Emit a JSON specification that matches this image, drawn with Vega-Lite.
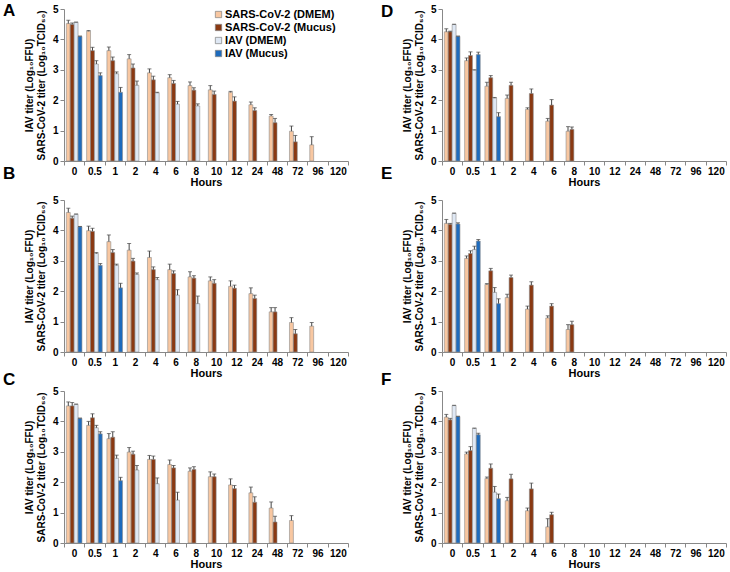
{
  "$schema": "https://vega.github.io/schema/vega-lite/v6.json",
  "padding": {"left": 3, "top": 2, "right": 2, "bottom": 0},
  "bounds": "flush",
  "spacing": {"row": 39, "column": 94},
  "columns": 2,
  "config": {
    "font": "Liberation Sans",
    "view": {"stroke": null},
    "axis": {"labelFontWeight": "bold", "labelColor": "#000", "titleFontWeight": "bold", "titleColor": "#000", "domainColor": "#888", "tickColor": "#888", "tickSize": 4, "grid": false},
    "legend": {"labelFontSize": 11, "labelFontWeight": "bold", "labelColor": "#000", "symbolType": "square", "symbolSize": 40, "symbolStrokeColor": "#808080", "symbolStrokeWidth": 0.7, "rowPadding": 1, "labelOffset": 1, "padding": 0},
    "title": {"fontSize": 17, "fontWeight": "bold", "color": "#000", "anchor": "start", "frame": "group"}
  },
  "data": {"values": [
    {"p":"A","h":"0","s":"SARS-CoV-2 (DMEM)","v":4.52,"hi":4.63},
    {"p":"A","h":"0","s":"SARS-CoV-2 (Mucus)","v":4.49,"hi":4.54},
    {"p":"A","h":"0","s":"IAV (DMEM)","v":4.56,"hi":4.57},
    {"p":"A","h":"0","s":"IAV (Mucus)","v":4.10,"hi":4.11},
    {"p":"A","h":"0.5","s":"SARS-CoV-2 (DMEM)","v":4.27,"hi":4.29},
    {"p":"A","h":"0.5","s":"SARS-CoV-2 (Mucus)","v":3.63,"hi":3.74},
    {"p":"A","h":"0.5","s":"IAV (DMEM)","v":3.19,"hi":3.30},
    {"p":"A","h":"0.5","s":"IAV (Mucus)","v":2.81,"hi":2.90},
    {"p":"A","h":"1","s":"SARS-CoV-2 (DMEM)","v":3.63,"hi":3.75},
    {"p":"A","h":"1","s":"SARS-CoV-2 (Mucus)","v":3.30,"hi":3.42},
    {"p":"A","h":"1","s":"IAV (DMEM)","v":2.87,"hi":2.93},
    {"p":"A","h":"1","s":"IAV (Mucus)","v":2.26,"hi":2.42},
    {"p":"A","h":"2","s":"SARS-CoV-2 (DMEM)","v":3.36,"hi":3.50},
    {"p":"A","h":"2","s":"SARS-CoV-2 (Mucus)","v":3.06,"hi":3.19},
    {"p":"A","h":"2","s":"IAV (DMEM)","v":2.49,"hi":2.63},
    {"p":"A","h":"4","s":"SARS-CoV-2 (DMEM)","v":2.90,"hi":3.03},
    {"p":"A","h":"4","s":"SARS-CoV-2 (Mucus)","v":2.67,"hi":2.79},
    {"p":"A","h":"4","s":"IAV (DMEM)","v":2.24,"hi":2.26},
    {"p":"A","h":"6","s":"SARS-CoV-2 (DMEM)","v":2.74,"hi":2.84},
    {"p":"A","h":"6","s":"SARS-CoV-2 (Mucus)","v":2.55,"hi":2.65},
    {"p":"A","h":"6","s":"IAV (DMEM)","v":1.87,"hi":1.96},
    {"p":"A","h":"8","s":"SARS-CoV-2 (DMEM)","v":2.48,"hi":2.60},
    {"p":"A","h":"8","s":"SARS-CoV-2 (Mucus)","v":2.33,"hi":2.41},
    {"p":"A","h":"8","s":"IAV (DMEM)","v":1.81,"hi":1.88},
    {"p":"A","h":"10","s":"SARS-CoV-2 (DMEM)","v":2.34,"hi":2.48},
    {"p":"A","h":"10","s":"SARS-CoV-2 (Mucus)","v":2.19,"hi":2.30},
    {"p":"A","h":"12","s":"SARS-CoV-2 (DMEM)","v":2.26,"hi":2.29},
    {"p":"A","h":"12","s":"SARS-CoV-2 (Mucus)","v":1.97,"hi":2.11},
    {"p":"A","h":"24","s":"SARS-CoV-2 (DMEM)","v":1.85,"hi":1.94},
    {"p":"A","h":"24","s":"SARS-CoV-2 (Mucus)","v":1.66,"hi":1.75},
    {"p":"A","h":"48","s":"SARS-CoV-2 (DMEM)","v":1.48,"hi":1.53},
    {"p":"A","h":"48","s":"SARS-CoV-2 (Mucus)","v":1.26,"hi":1.40},
    {"p":"A","h":"72","s":"SARS-CoV-2 (DMEM)","v":0.98,"hi":1.15},
    {"p":"A","h":"72","s":"SARS-CoV-2 (Mucus)","v":0.63,"hi":0.84},
    {"p":"A","h":"96","s":"SARS-CoV-2 (DMEM)","v":0.53,"hi":0.80},

    {"p":"D","h":"0","s":"SARS-CoV-2 (DMEM)","v":4.25,"hi":4.35},
    {"p":"D","h":"0","s":"SARS-CoV-2 (Mucus)","v":4.25,"hi":4.27},
    {"p":"D","h":"0","s":"IAV (DMEM)","v":4.49,"hi":4.50},
    {"p":"D","h":"0","s":"IAV (Mucus)","v":4.10,"hi":4.11},
    {"p":"D","h":"0.5","s":"SARS-CoV-2 (DMEM)","v":3.30,"hi":3.39},
    {"p":"D","h":"0.5","s":"SARS-CoV-2 (Mucus)","v":3.47,"hi":3.59},
    {"p":"D","h":"0.5","s":"IAV (DMEM)","v":2.99,"hi":3.00},
    {"p":"D","h":"0.5","s":"IAV (Mucus)","v":3.50,"hi":3.58},
    {"p":"D","h":"1","s":"SARS-CoV-2 (DMEM)","v":2.46,"hi":2.59},
    {"p":"D","h":"1","s":"SARS-CoV-2 (Mucus)","v":2.74,"hi":2.81},
    {"p":"D","h":"1","s":"IAV (DMEM)","v":2.07,"hi":2.09},
    {"p":"D","h":"1","s":"IAV (Mucus)","v":1.46,"hi":1.59},
    {"p":"D","h":"2","s":"SARS-CoV-2 (DMEM)","v":2.06,"hi":2.17},
    {"p":"D","h":"2","s":"SARS-CoV-2 (Mucus)","v":2.49,"hi":2.59},
    {"p":"D","h":"4","s":"SARS-CoV-2 (DMEM)","v":1.70,"hi":1.75},
    {"p":"D","h":"4","s":"SARS-CoV-2 (Mucus)","v":2.22,"hi":2.37},
    {"p":"D","h":"6","s":"SARS-CoV-2 (DMEM)","v":1.31,"hi":1.40},
    {"p":"D","h":"6","s":"SARS-CoV-2 (Mucus)","v":1.84,"hi":2.02},
    {"p":"D","h":"8","s":"SARS-CoV-2 (DMEM)","v":0.98,"hi":1.13},
    {"p":"D","h":"8","s":"SARS-CoV-2 (Mucus)","v":1.04,"hi":1.12},

    {"p":"B","h":"0","s":"SARS-CoV-2 (DMEM)","v":4.59,"hi":4.73},
    {"p":"B","h":"0","s":"SARS-CoV-2 (Mucus)","v":4.40,"hi":4.47},
    {"p":"B","h":"0","s":"IAV (DMEM)","v":4.53,"hi":4.54},
    {"p":"B","h":"0","s":"IAV (Mucus)","v":4.12,"hi":4.13},
    {"p":"B","h":"0.5","s":"SARS-CoV-2 (DMEM)","v":3.99,"hi":4.14},
    {"p":"B","h":"0.5","s":"SARS-CoV-2 (Mucus)","v":3.97,"hi":4.07},
    {"p":"B","h":"0.5","s":"IAV (DMEM)","v":3.24,"hi":3.27},
    {"p":"B","h":"0.5","s":"IAV (Mucus)","v":2.85,"hi":2.91},
    {"p":"B","h":"1","s":"SARS-CoV-2 (DMEM)","v":3.63,"hi":3.85},
    {"p":"B","h":"1","s":"SARS-CoV-2 (Mucus)","v":3.27,"hi":3.37},
    {"p":"B","h":"1","s":"IAV (DMEM)","v":2.85,"hi":2.89},
    {"p":"B","h":"1","s":"IAV (Mucus)","v":2.11,"hi":2.26},
    {"p":"B","h":"2","s":"SARS-CoV-2 (DMEM)","v":3.35,"hi":3.57},
    {"p":"B","h":"2","s":"SARS-CoV-2 (Mucus)","v":2.99,"hi":3.08},
    {"p":"B","h":"2","s":"IAV (DMEM)","v":2.55,"hi":2.60},
    {"p":"B","h":"4","s":"SARS-CoV-2 (DMEM)","v":3.11,"hi":3.32},
    {"p":"B","h":"4","s":"SARS-CoV-2 (Mucus)","v":2.71,"hi":2.80},
    {"p":"B","h":"4","s":"IAV (DMEM)","v":2.38,"hi":2.45},
    {"p":"B","h":"6","s":"SARS-CoV-2 (DMEM)","v":2.71,"hi":2.89},
    {"p":"B","h":"6","s":"SARS-CoV-2 (Mucus)","v":2.58,"hi":2.67},
    {"p":"B","h":"6","s":"IAV (DMEM)","v":1.87,"hi":2.05},
    {"p":"B","h":"8","s":"SARS-CoV-2 (DMEM)","v":2.47,"hi":2.64},
    {"p":"B","h":"8","s":"SARS-CoV-2 (Mucus)","v":2.43,"hi":2.51},
    {"p":"B","h":"8","s":"IAV (DMEM)","v":1.59,"hi":1.84},
    {"p":"B","h":"10","s":"SARS-CoV-2 (DMEM)","v":2.34,"hi":2.47},
    {"p":"B","h":"10","s":"SARS-CoV-2 (Mucus)","v":2.26,"hi":2.38},
    {"p":"B","h":"12","s":"SARS-CoV-2 (DMEM)","v":2.16,"hi":2.34},
    {"p":"B","h":"12","s":"SARS-CoV-2 (Mucus)","v":2.10,"hi":2.20},
    {"p":"B","h":"24","s":"SARS-CoV-2 (DMEM)","v":1.92,"hi":2.11},
    {"p":"B","h":"24","s":"SARS-CoV-2 (Mucus)","v":1.76,"hi":1.87},
    {"p":"B","h":"48","s":"SARS-CoV-2 (DMEM)","v":1.32,"hi":1.46},
    {"p":"B","h":"48","s":"SARS-CoV-2 (Mucus)","v":1.32,"hi":1.46},
    {"p":"B","h":"72","s":"SARS-CoV-2 (DMEM)","v":0.97,"hi":1.13},
    {"p":"B","h":"72","s":"SARS-CoV-2 (Mucus)","v":0.60,"hi":0.74},
    {"p":"B","h":"96","s":"SARS-CoV-2 (DMEM)","v":0.85,"hi":0.97},

    {"p":"E","h":"0","s":"SARS-CoV-2 (DMEM)","v":4.23,"hi":4.36},
    {"p":"E","h":"0","s":"SARS-CoV-2 (Mucus)","v":4.20,"hi":4.23},
    {"p":"E","h":"0","s":"IAV (DMEM)","v":4.56,"hi":4.57},
    {"p":"E","h":"0","s":"IAV (Mucus)","v":4.21,"hi":4.25},
    {"p":"E","h":"0.5","s":"SARS-CoV-2 (DMEM)","v":3.08,"hi":3.16},
    {"p":"E","h":"0.5","s":"SARS-CoV-2 (Mucus)","v":3.24,"hi":3.33},
    {"p":"E","h":"0.5","s":"IAV (DMEM)","v":3.37,"hi":3.48},
    {"p":"E","h":"0.5","s":"IAV (Mucus)","v":3.65,"hi":3.70},
    {"p":"E","h":"1","s":"SARS-CoV-2 (DMEM)","v":2.22,"hi":2.25},
    {"p":"E","h":"1","s":"SARS-CoV-2 (Mucus)","v":2.67,"hi":2.75},
    {"p":"E","h":"1","s":"IAV (DMEM)","v":1.96,"hi":2.12},
    {"p":"E","h":"1","s":"IAV (Mucus)","v":1.59,"hi":1.75},
    {"p":"E","h":"2","s":"SARS-CoV-2 (DMEM)","v":1.79,"hi":1.90},
    {"p":"E","h":"2","s":"SARS-CoV-2 (Mucus)","v":2.45,"hi":2.53},
    {"p":"E","h":"4","s":"SARS-CoV-2 (DMEM)","v":1.41,"hi":1.51},
    {"p":"E","h":"4","s":"SARS-CoV-2 (Mucus)","v":2.20,"hi":2.31},
    {"p":"E","h":"6","s":"SARS-CoV-2 (DMEM)","v":1.12,"hi":1.19},
    {"p":"E","h":"6","s":"SARS-CoV-2 (Mucus)","v":1.51,"hi":1.59},
    {"p":"E","h":"8","s":"SARS-CoV-2 (DMEM)","v":0.74,"hi":0.90},
    {"p":"E","h":"8","s":"SARS-CoV-2 (Mucus)","v":0.90,"hi":1.01},

    {"p":"C","h":"0","s":"SARS-CoV-2 (DMEM)","v":4.51,"hi":4.64},
    {"p":"C","h":"0","s":"SARS-CoV-2 (Mucus)","v":4.51,"hi":4.62},
    {"p":"C","h":"0","s":"IAV (DMEM)","v":4.56,"hi":4.57},
    {"p":"C","h":"0","s":"IAV (Mucus)","v":4.10,"hi":4.11},
    {"p":"C","h":"0.5","s":"SARS-CoV-2 (DMEM)","v":3.87,"hi":4.00},
    {"p":"C","h":"0.5","s":"SARS-CoV-2 (Mucus)","v":4.12,"hi":4.25},
    {"p":"C","h":"0.5","s":"IAV (DMEM)","v":3.79,"hi":3.87},
    {"p":"C","h":"0.5","s":"IAV (Mucus)","v":3.59,"hi":3.66},
    {"p":"C","h":"1","s":"SARS-CoV-2 (DMEM)","v":3.43,"hi":3.60},
    {"p":"C","h":"1","s":"SARS-CoV-2 (Mucus)","v":3.48,"hi":3.66},
    {"p":"C","h":"1","s":"IAV (DMEM)","v":2.78,"hi":2.89},
    {"p":"C","h":"1","s":"IAV (Mucus)","v":2.05,"hi":2.16},
    {"p":"C","h":"2","s":"SARS-CoV-2 (DMEM)","v":2.99,"hi":3.14},
    {"p":"C","h":"2","s":"SARS-CoV-2 (Mucus)","v":2.92,"hi":3.02},
    {"p":"C","h":"2","s":"IAV (DMEM)","v":2.40,"hi":2.55},
    {"p":"C","h":"4","s":"SARS-CoV-2 (DMEM)","v":2.75,"hi":2.88},
    {"p":"C","h":"4","s":"SARS-CoV-2 (Mucus)","v":2.75,"hi":2.86},
    {"p":"C","h":"4","s":"IAV (DMEM)","v":1.95,"hi":2.14},
    {"p":"C","h":"6","s":"SARS-CoV-2 (DMEM)","v":2.58,"hi":2.73},
    {"p":"C","h":"6","s":"SARS-CoV-2 (Mucus)","v":2.47,"hi":2.55},
    {"p":"C","h":"6","s":"IAV (DMEM)","v":1.41,"hi":1.67},
    {"p":"C","h":"8","s":"SARS-CoV-2 (DMEM)","v":2.36,"hi":2.47},
    {"p":"C","h":"8","s":"SARS-CoV-2 (Mucus)","v":2.42,"hi":2.51},
    {"p":"C","h":"10","s":"SARS-CoV-2 (DMEM)","v":2.18,"hi":2.34},
    {"p":"C","h":"10","s":"SARS-CoV-2 (Mucus)","v":2.18,"hi":2.27},
    {"p":"C","h":"12","s":"SARS-CoV-2 (DMEM)","v":1.91,"hi":2.11},
    {"p":"C","h":"12","s":"SARS-CoV-2 (Mucus)","v":1.79,"hi":1.89},
    {"p":"C","h":"24","s":"SARS-CoV-2 (DMEM)","v":1.65,"hi":1.84},
    {"p":"C","h":"24","s":"SARS-CoV-2 (Mucus)","v":1.34,"hi":1.52},
    {"p":"C","h":"48","s":"SARS-CoV-2 (DMEM)","v":1.15,"hi":1.35},
    {"p":"C","h":"48","s":"SARS-CoV-2 (Mucus)","v":0.69,"hi":0.88},
    {"p":"C","h":"72","s":"SARS-CoV-2 (DMEM)","v":0.74,"hi":0.90},

    {"p":"F","h":"0","s":"SARS-CoV-2 (DMEM)","v":4.14,"hi":4.23},
    {"p":"F","h":"0","s":"SARS-CoV-2 (Mucus)","v":4.05,"hi":4.10},
    {"p":"F","h":"0","s":"IAV (DMEM)","v":4.52,"hi":4.53},
    {"p":"F","h":"0","s":"IAV (Mucus)","v":4.16,"hi":4.17},
    {"p":"F","h":"0.5","s":"SARS-CoV-2 (DMEM)","v":2.93,"hi":2.99},
    {"p":"F","h":"0.5","s":"SARS-CoV-2 (Mucus)","v":3.04,"hi":3.17},
    {"p":"F","h":"0.5","s":"IAV (DMEM)","v":3.77,"hi":3.78},
    {"p":"F","h":"0.5","s":"IAV (Mucus)","v":3.56,"hi":3.61},
    {"p":"F","h":"1","s":"SARS-CoV-2 (DMEM)","v":2.12,"hi":2.17},
    {"p":"F","h":"1","s":"SARS-CoV-2 (Mucus)","v":2.46,"hi":2.60},
    {"p":"F","h":"1","s":"IAV (DMEM)","v":1.67,"hi":1.86},
    {"p":"F","h":"1","s":"IAV (Mucus)","v":1.46,"hi":1.61},
    {"p":"F","h":"2","s":"SARS-CoV-2 (DMEM)","v":1.39,"hi":1.50},
    {"p":"F","h":"2","s":"SARS-CoV-2 (Mucus)","v":2.11,"hi":2.26},
    {"p":"F","h":"4","s":"SARS-CoV-2 (DMEM)","v":1.06,"hi":1.15},
    {"p":"F","h":"4","s":"SARS-CoV-2 (Mucus)","v":1.78,"hi":1.97},
    {"p":"F","h":"6","s":"SARS-CoV-2 (DMEM)","v":0.53,"hi":0.80},
    {"p":"F","h":"6","s":"SARS-CoV-2 (Mucus)","v":0.93,"hi":1.01}
  ]},
  "concat": [
    {"title": {"text": "A", "dx": -61, "dy": 20}, "width": 284, "height": 152, "transform": [{"filter": "datum.p === 'A'"}],
     "encoding": {
       "x": {"field": "h", "type": "ordinal", "scale": {"domain": ["0","0.5","1","2","4","6","8","10","12","24","48","72","96","120"], "paddingInner": 0, "paddingOuter": 0}, "axis": {"title": "Hours", "titleFontSize": 11, "titlePadding": 0, "labelFontSize": 10, "labelAngle": 0, "labelPadding": 1, "tickBand": "extent"}},
       "xOffset": {"field": "s", "type": "nominal", "scale": {"domain": ["SARS-CoV-2 (DMEM)","SARS-CoV-2 (Mucus)","IAV (DMEM)","IAV (Mucus)"], "paddingOuter": 0.6}},
       "y": {"field": "v", "type": "quantitative", "scale": {"domain": [0, 5], "nice": false}, "axis": {"values": [0,1,2,3,4,5], "title": ["IAV titer (Log₁₀FFU)", "SARS-CoV-2 titer (Log₁₀TCID₅₀)"], "titleFontSize": 10, "titleLineHeight": 12, "titlePadding": 6, "labelFontSize": 10, "labelPadding": 2}}
     },
     "layer": [
       {"mark": {"type": "bar", "stroke": "#8c8c8c", "strokeWidth": 0.6}, "encoding": {"color": {"field": "s", "type": "nominal", "scale": {"domain": ["SARS-CoV-2 (DMEM)","SARS-CoV-2 (Mucus)","IAV (DMEM)","IAV (Mucus)"], "range": ["#f8c7a1","#8a3912","#dfe8f4","#1e6bbd"]}, "legend": {"title": null, "orient": "none", "legendX": 149, "legendY": 0}}}},
       {"mark": {"type": "rule", "color": "#444", "strokeWidth": 1}, "encoding": {"y2": {"field": "hi"}}},
       {"mark": {"type": "tick", "color": "#444", "size": 4, "thickness": 1}, "encoding": {"y": {"field": "hi", "type": "quantitative"}}}
     ]},
    {"title": {"text": "D", "dx": -61, "dy": 21}, "width": 284, "height": 152, "transform": [{"filter": "datum.p === 'D'"}],
     "encoding": {
       "x": {"field": "h", "type": "ordinal", "scale": {"domain": ["0","0.5","1","2","4","6","8","10","12","24","48","72","96","120"], "paddingInner": 0, "paddingOuter": 0}, "axis": {"title": "Hours", "titleFontSize": 11, "titlePadding": 0, "labelFontSize": 10, "labelAngle": 0, "labelPadding": 1, "tickBand": "extent"}},
       "xOffset": {"field": "s", "type": "nominal", "scale": {"domain": ["SARS-CoV-2 (DMEM)","SARS-CoV-2 (Mucus)","IAV (DMEM)","IAV (Mucus)"], "paddingOuter": 0.6}},
       "y": {"field": "v", "type": "quantitative", "scale": {"domain": [0, 5], "nice": false}, "axis": {"values": [0,1,2,3,4,5], "title": ["IAV titer (Log₁₀FFU)", "SARS-CoV-2 titer (Log₁₀TCID₅₀)"], "titleFontSize": 10, "titleLineHeight": 12, "titlePadding": 6, "labelFontSize": 10, "labelPadding": 2}}
     },
     "layer": [
       {"mark": {"type": "bar", "stroke": "#8c8c8c", "strokeWidth": 0.6}, "encoding": {"color": {"field": "s", "type": "nominal", "scale": {"domain": ["SARS-CoV-2 (DMEM)","SARS-CoV-2 (Mucus)","IAV (DMEM)","IAV (Mucus)"], "range": ["#f8c7a1","#8a3912","#dfe8f4","#1e6bbd"]}, "legend": {"title": null, "orient": "none", "legendX": 151, "legendY": 9}}}},
       {"mark": {"type": "rule", "color": "#444", "strokeWidth": 1}, "encoding": {"y2": {"field": "hi"}}},
       {"mark": {"type": "tick", "color": "#444", "size": 4, "thickness": 1}, "encoding": {"y": {"field": "hi", "type": "quantitative"}}}
     ]},
    {"title": {"text": "B", "dx": -61, "dy": -8}, "width": 284, "height": 152, "transform": [{"filter": "datum.p === 'B'"}],
     "encoding": {
       "x": {"field": "h", "type": "ordinal", "scale": {"domain": ["0","0.5","1","2","4","6","8","10","12","24","48","72","96","120"], "paddingInner": 0, "paddingOuter": 0}, "axis": {"title": "Hours", "titleFontSize": 11, "titlePadding": 0, "labelFontSize": 10, "labelAngle": 0, "labelPadding": 1, "tickBand": "extent"}},
       "xOffset": {"field": "s", "type": "nominal", "scale": {"domain": ["SARS-CoV-2 (DMEM)","SARS-CoV-2 (Mucus)","IAV (DMEM)","IAV (Mucus)"], "paddingOuter": 0.6}},
       "y": {"field": "v", "type": "quantitative", "scale": {"domain": [0, 5], "nice": false}, "axis": {"values": [0,1,2,3,4,5], "title": ["IAV titer (Log₁₀FFU)", "SARS-CoV-2 titer (Log₁₀TCID₅₀)"], "titleFontSize": 10, "titleLineHeight": 12, "titlePadding": 6, "labelFontSize": 10, "labelPadding": 2}}
     },
     "layer": [
       {"mark": {"type": "bar", "stroke": "#8c8c8c", "strokeWidth": 0.6}, "encoding": {"color": {"field": "s", "type": "nominal", "scale": {"domain": ["SARS-CoV-2 (DMEM)","SARS-CoV-2 (Mucus)","IAV (DMEM)","IAV (Mucus)"], "range": ["#f8c7a1","#8a3912","#dfe8f4","#1e6bbd"]}, "legend": {"title": null, "orient": "none", "legendX": 148, "legendY": 7}}}},
       {"mark": {"type": "rule", "color": "#444", "strokeWidth": 1}, "encoding": {"y2": {"field": "hi"}}},
       {"mark": {"type": "tick", "color": "#444", "size": 4, "thickness": 1}, "encoding": {"y": {"field": "hi", "type": "quantitative"}}}
     ]},
    {"title": {"text": "E", "dx": -61, "dy": -8}, "width": 284, "height": 152, "transform": [{"filter": "datum.p === 'E'"}],
     "encoding": {
       "x": {"field": "h", "type": "ordinal", "scale": {"domain": ["0","0.5","1","2","4","6","8","10","12","24","48","72","96","120"], "paddingInner": 0, "paddingOuter": 0}, "axis": {"title": "Hours", "titleFontSize": 11, "titlePadding": 0, "labelFontSize": 10, "labelAngle": 0, "labelPadding": 1, "tickBand": "extent"}},
       "xOffset": {"field": "s", "type": "nominal", "scale": {"domain": ["SARS-CoV-2 (DMEM)","SARS-CoV-2 (Mucus)","IAV (DMEM)","IAV (Mucus)"], "paddingOuter": 0.6}},
       "y": {"field": "v", "type": "quantitative", "scale": {"domain": [0, 5], "nice": false}, "axis": {"values": [0,1,2,3,4,5], "title": ["IAV titer (Log₁₀FFU)", "SARS-CoV-2 titer (Log₁₀TCID₅₀)"], "titleFontSize": 10, "titleLineHeight": 12, "titlePadding": 6, "labelFontSize": 10, "labelPadding": 2}}
     },
     "layer": [
       {"mark": {"type": "bar", "stroke": "#8c8c8c", "strokeWidth": 0.6}, "encoding": {"color": {"field": "s", "type": "nominal", "scale": {"domain": ["SARS-CoV-2 (DMEM)","SARS-CoV-2 (Mucus)","IAV (DMEM)","IAV (Mucus)"], "range": ["#f8c7a1","#8a3912","#dfe8f4","#1e6bbd"]}, "legend": {"title": null, "orient": "none", "legendX": 151, "legendY": 17}}}},
       {"mark": {"type": "rule", "color": "#444", "strokeWidth": 1}, "encoding": {"y2": {"field": "hi"}}},
       {"mark": {"type": "tick", "color": "#444", "size": 4, "thickness": 1}, "encoding": {"y": {"field": "hi", "type": "quantitative"}}}
     ]},
    {"title": {"text": "C", "dx": -61, "dy": 7}, "width": 284, "height": 152, "transform": [{"filter": "datum.p === 'C'"}],
     "encoding": {
       "x": {"field": "h", "type": "ordinal", "scale": {"domain": ["0","0.5","1","2","4","6","8","10","12","24","48","72","96","120"], "paddingInner": 0, "paddingOuter": 0}, "axis": {"title": "Hours", "titleFontSize": 11, "titlePadding": 0, "labelFontSize": 10, "labelAngle": 0, "labelPadding": 1, "tickBand": "extent"}},
       "xOffset": {"field": "s", "type": "nominal", "scale": {"domain": ["SARS-CoV-2 (DMEM)","SARS-CoV-2 (Mucus)","IAV (DMEM)","IAV (Mucus)"], "paddingOuter": 0.6}},
       "y": {"field": "v", "type": "quantitative", "scale": {"domain": [0, 5], "nice": false}, "axis": {"values": [0,1,2,3,4,5], "title": ["IAV titer (Log₁₀FFU)", "SARS-CoV-2 titer (Log₁₀TCID₅₀)"], "titleFontSize": 10, "titleLineHeight": 12, "titlePadding": 6, "labelFontSize": 10, "labelPadding": 2}}
     },
     "layer": [
       {"mark": {"type": "bar", "stroke": "#8c8c8c", "strokeWidth": 0.6}, "encoding": {"color": {"field": "s", "type": "nominal", "scale": {"domain": ["SARS-CoV-2 (DMEM)","SARS-CoV-2 (Mucus)","IAV (DMEM)","IAV (Mucus)"], "range": ["#f8c7a1","#8a3912","#dfe8f4","#1e6bbd"]}, "legend": {"title": null, "orient": "none", "legendX": 151, "legendY": 7}}}},
       {"mark": {"type": "rule", "color": "#444", "strokeWidth": 1}, "encoding": {"y2": {"field": "hi"}}},
       {"mark": {"type": "tick", "color": "#444", "size": 4, "thickness": 1}, "encoding": {"y": {"field": "hi", "type": "quantitative"}}}
     ]},
    {"title": {"text": "F", "dx": -61, "dy": 7}, "width": 284, "height": 152, "transform": [{"filter": "datum.p === 'F'"}],
     "encoding": {
       "x": {"field": "h", "type": "ordinal", "scale": {"domain": ["0","0.5","1","2","4","6","8","10","12","24","48","72","96","120"], "paddingInner": 0, "paddingOuter": 0}, "axis": {"title": "Hours", "titleFontSize": 11, "titlePadding": 0, "labelFontSize": 10, "labelAngle": 0, "labelPadding": 1, "tickBand": "extent"}},
       "xOffset": {"field": "s", "type": "nominal", "scale": {"domain": ["SARS-CoV-2 (DMEM)","SARS-CoV-2 (Mucus)","IAV (DMEM)","IAV (Mucus)"], "paddingOuter": 0.6}},
       "y": {"field": "v", "type": "quantitative", "scale": {"domain": [0, 5], "nice": false}, "axis": {"values": [0,1,2,3,4,5], "title": ["IAV titer (Log₁₀FFU)", "SARS-CoV-2 titer (Log₁₀TCID₅₀)"], "titleFontSize": 10, "titleLineHeight": 12, "titlePadding": 6, "labelFontSize": 10, "labelPadding": 2}}
     },
     "layer": [
       {"mark": {"type": "bar", "stroke": "#8c8c8c", "strokeWidth": 0.6}, "encoding": {"color": {"field": "s", "type": "nominal", "scale": {"domain": ["SARS-CoV-2 (DMEM)","SARS-CoV-2 (Mucus)","IAV (DMEM)","IAV (Mucus)"], "range": ["#f8c7a1","#8a3912","#dfe8f4","#1e6bbd"]}, "legend": {"title": null, "orient": "none", "legendX": 154, "legendY": 36}}}},
       {"mark": {"type": "rule", "color": "#444", "strokeWidth": 1}, "encoding": {"y2": {"field": "hi"}}},
       {"mark": {"type": "tick", "color": "#444", "size": 4, "thickness": 1}, "encoding": {"y": {"field": "hi", "type": "quantitative"}}}
     ]}
  ]
}
